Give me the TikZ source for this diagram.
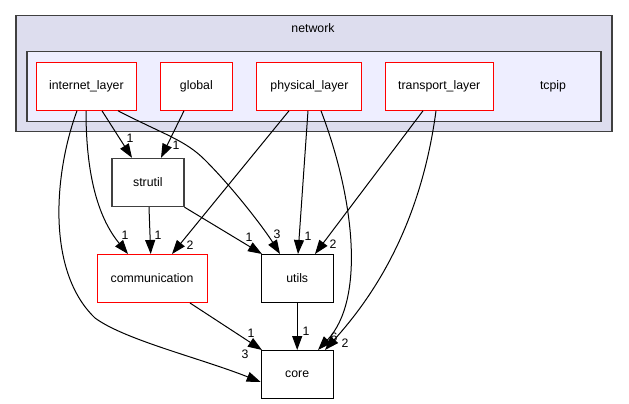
\documentclass[tikz,border=0pt]{standalone}
\usepackage{fontspec}
\setmainfont{Liberation Sans}
\usetikzlibrary{arrows.meta}
\definecolor{clouter}{HTML}{DDDDEE}
\definecolor{clinner}{HTML}{EEEEFF}
\definecolor{cborder}{HTML}{404040}
\tikzset{
  dirbox/.style={draw=red, fill=white, line width=1pt, minimum height=48pt, inner sep=0pt, font=\fontsize{12.3}{14}\selectfont},
  plainbox/.style={draw=black, fill=white, line width=1pt, minimum height=48pt, minimum width=72pt, inner sep=0pt, font=\fontsize{12.3}{14}\selectfont},
  graybox/.style={draw=cborder, fill=white, line width=1.4pt, minimum height=48pt, minimum width=72pt, inner sep=0pt, font=\fontsize{12.3}{14}\selectfont},
  dep/.style={draw=black, line width=1pt, -{Triangle[length=14pt,width=10pt]}},
  lbl/.style={inner sep=0pt, font=\fontsize{12.3}{14}\selectfont},
  clusterlbl/.style={inner sep=0pt, font=\fontsize{12.3}{14}\selectfont}
}
\begin{document}
\begin{tikzpicture}[x=1pt,y=-1pt]
\useasboundingbox (0,0) rectangle (629,404);
% clusters
\draw[fill=clouter, draw=cborder, line width=1.4pt] (16,15.7) rectangle (612,131.7);
\node[clusterlbl] (netlbl) at (313,27.7) {network};
\draw[fill=clinner, draw=cborder, line width=1.4pt] (26.8,51.7) rectangle (601,121.3);
\node[clusterlbl] (tcpiplbl) at (553,86) {tcpip};
% nodes
\node[dirbox, minimum width=100pt] (inet) at (86.4,86.3) {internet\_layer};
\node[dirbox, minimum width=72pt] (global) at (196.4,86.3) {global};
\node[dirbox, minimum width=105pt] (phys) at (309.4,86.3) {physical\_layer};
\node[dirbox, minimum width=108pt] (trans) at (439.2,86.3) {transport\_layer};
\node[graybox] (strutil) at (147.8,182.5) {strutil};
\node[dirbox, minimum width=110pt] (comm) at (152,278.5) {communication};
\node[plainbox] (utils) at (297.2,278.5) {utils};
\node[plainbox] (core) at (297.2,374.5) {core};
% hidden label drawn first
\node[lbl] (l13) at (334,337) {6};
% edges
\draw[dep] ([xshift=-9.4pt]inet.south) .. controls (55,170) and (45,270) .. (95,318)
   .. controls (125,340) and (200,358) .. ([yshift=-7.5pt]core.west);
\draw[dep] ([xshift=-0.4pt]inet.south) .. controls (86,180) and (100,220) .. ([xshift=-24pt]comm.north);
\draw[dep] ([xshift=15.6pt]inet.south) -- ([xshift=-15.8pt]strutil.north);
\draw[dep] ([xshift=-12.4pt]global.south) -- ([xshift=13.2pt]strutil.north);
\draw[dep] ([xshift=31.6pt]inet.south) .. controls (165,135) and (185,140) .. (205,160)
   .. controls (235,190) and (265,230) .. ([xshift=-17.2pt]utils.north);
\draw[dep] ([xshift=1.2pt]strutil.south) -- ([xshift=-1.3pt]comm.north);
\draw[dep] (strutil.south east) -- ([xshift=-35.2pt]utils.north);
\draw[dep] ([xshift=-20.4pt]phys.south) -- ([xshift=20pt]comm.north);
\draw[dep] ([xshift=-1.4pt]phys.south) -- ([xshift=0.8pt]utils.north);
\draw[dep] ([xshift=11.6pt]phys.south) .. controls (355,200) and (365,300) .. ([xshift=20.8pt]core.north);
\draw[dep] ([xshift=-16.2pt]trans.south) -- ([xshift=17.8pt]utils.north);
\draw[dep] ([xshift=-3.2pt]trans.south) .. controls (420,230) and (370,300) .. ([xshift=27.8pt]core.north);
\draw[dep] ([xshift=38pt]comm.south) -- ([xshift=-35.2pt]core.north);
\draw[dep] (utils.south) -- (core.north);
% labels
\node[lbl] (l1) at (130,138) {1};
\node[lbl] (l2) at (176,145) {1};
\node[lbl] (l3) at (125,235) {1};
\node[lbl] (l4) at (158,235) {1};
\node[lbl] (l5) at (190,245) {2};
\node[lbl] (l6) at (249,237) {1};
\node[lbl] (l7) at (277,234) {3};
\node[lbl] (l8) at (308,236) {1};
\node[lbl] (l9) at (333,244) {2};
\node[lbl] (l10) at (251,333) {1};
\node[lbl] (l11) at (245,354) {3};
\node[lbl] (l12) at (306,331) {1};
\node[lbl] (l14) at (345,343) {2};
\end{tikzpicture}
\end{document}
